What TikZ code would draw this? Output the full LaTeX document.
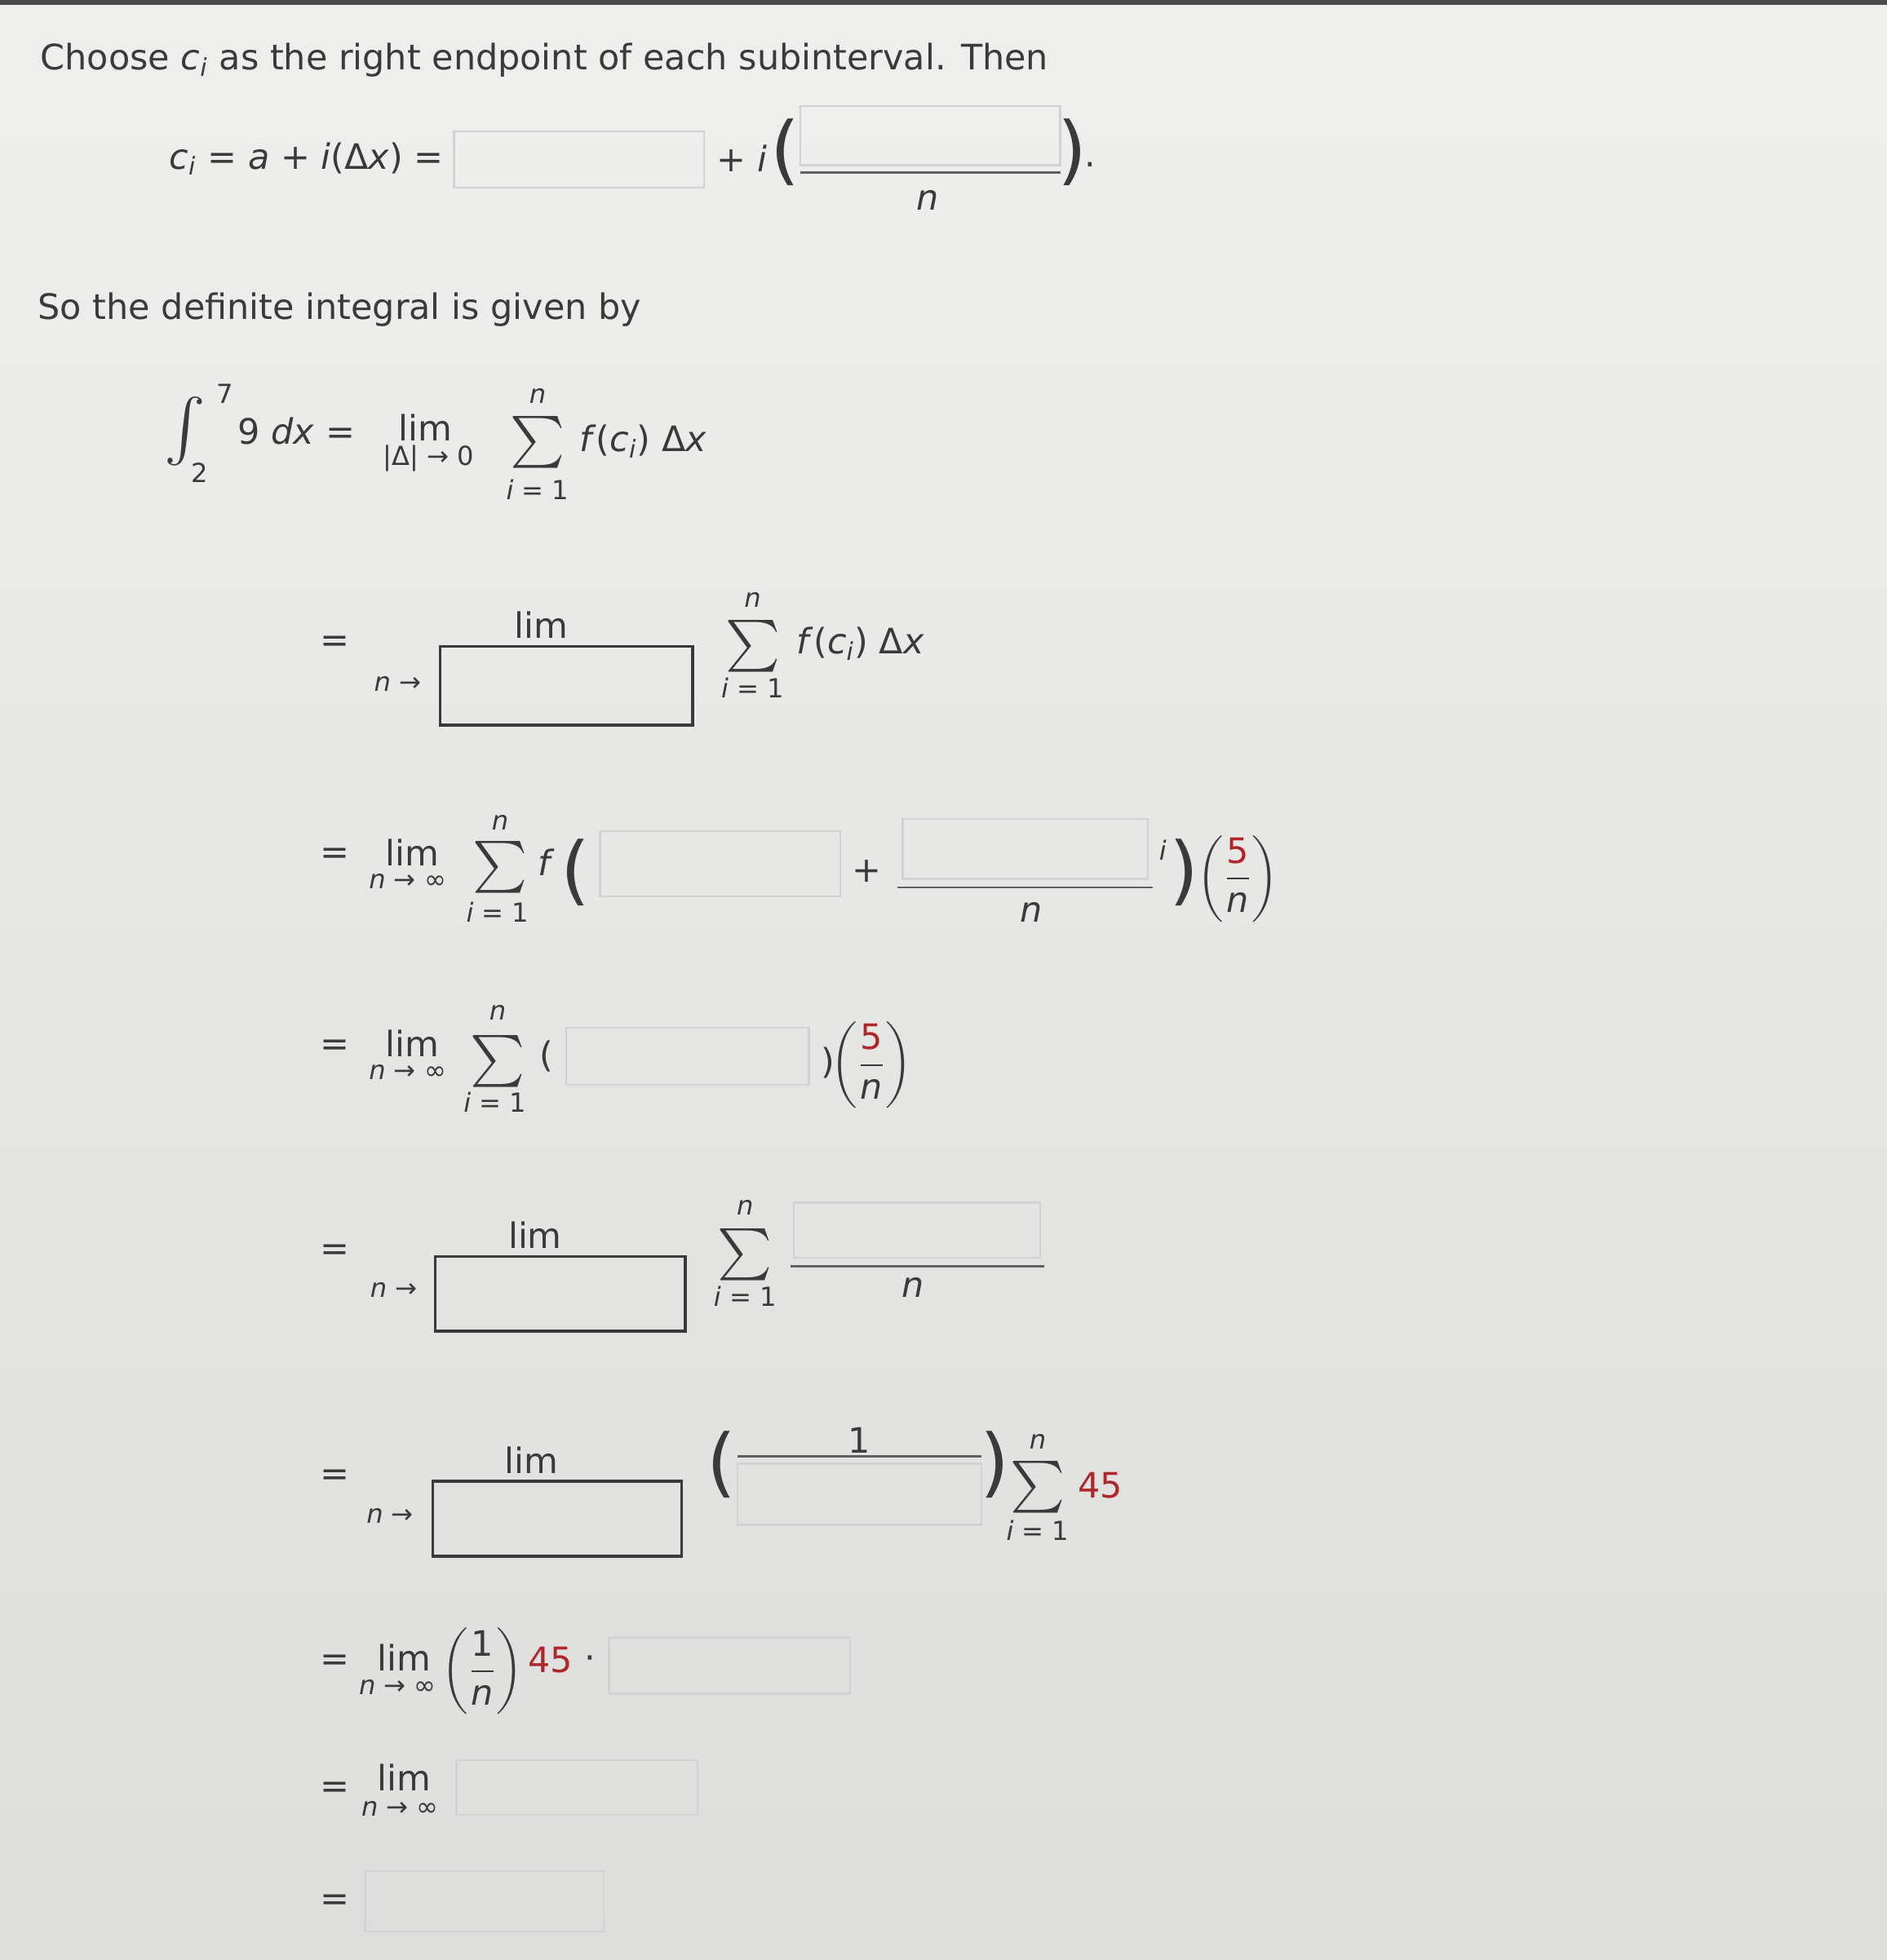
\documentclass[tikz,border=0pt]{standalone}
\usepackage{fontspec}
\setmainfont{DejaVu Sans}
\usepackage{amsmath}
\definecolor{bg}{HTML}{E4E4E2}
\definecolor{ans}{HTML}{B0262A}
\definecolor{txt}{HTML}{3A3A3A}
\newcommand{\myfr}[2]{$\displaystyle\left(\frac{\text{#1}}{\text{#2}}\right)$}
\begin{document}
\begin{tikzpicture}[x=0.5pt,y=-0.5pt,
  t/.style={inner sep=0pt,text=txt,font=\fontsize{14}{16}\selectfont},
  l/.style={t,anchor=west},
  s/.style={t,font=\fontsize{10.5}{12}\selectfont},
  sig/.style={t,font=\fontsize{22}{24}\selectfont},
  big/.style={t,font=\fontsize{30}{32}\selectfont},
  gbox/.style={draw=gray!35,line width=0.8pt},
  kbox/.style={draw=txt,line width=1.1pt},
  fl/.style={draw=txt!80,line width=0.9pt}]
\shade[top color=bg!60!white,bottom color=bg!97!black] (0,0) rectangle (1509,1568);
\fill[black!70] (0,0) rectangle (1509,4);
\useasboundingbox (0,0) rectangle (1509,1568);
% line 1
\node[l] (h1) at (32,48) {Choose \textit{c\textsubscript{i}} as the right endpoint of each subinterval. Then};
\node[l] (ci) at (135,127) {\textit{c\textsubscript{i}} = \textit{a} + \textit{i}(Δ\textit{x}) =};
\draw[gbox] (363,105) rectangle (563,150);
\node[l] (pi) at (573,127) {+ \textit{i}};
\node[big] (p1) at (628,122) {(};
\draw[gbox] (640,85) rectangle (848,132);
\draw[fl] (640,138) -- (848,138);
\node[t] (n1) at (742,160) {\textit{n}};
\node[big] (p2) at (858,122) {)};
\node[t] at (872,132) {.};
\node[l] (h2) at (30,248) {So the definite integral is given by};
% integral
\node[t,font=\fontsize{30}{32}\selectfont] (int) at (148,345) {$\int$};
\node[s] at (180,315) {7};
\node[s] at (160,378) {2};
\node[l] (nine) at (190,345) {9 \textit{dx} =};
\node[t] at (340,342) {lim};
\node[s] at (343,367) {|Δ| → 0};
\node[sig] (s0) at (430,354) {$\sum$};
\node[s] at (430,317) {\textit{n}};
\node[s] at (430,392) {\textit{i} = 1};
\node[l] at (463,353) {\textit{f}(\textit{c\textsubscript{i}}) Δ\textit{x}};
% row 2
\node[t] at (268,515) {=};
\node[t] at (433,500) {lim};
\node[s] at (318,547) {\textit{n} →};
\draw[kbox] (352,517) rectangle (554,580);
\node[sig] at (602,517) {$\sum$};
\node[s] at (602,480) {\textit{n}};
\node[s] at (602,550) {\textit{i} = 1};
\node[l] at (637,515) {\textit{f}(\textit{c\textsubscript{i}}) Δ\textit{x}};
% row 3
\node[t] at (268,685) {=};
\node[t] at (330,682) {lim};
\node[s] at (326,705) {\textit{n} → ∞};
\node[sig] at (400,694) {$\sum$};
\node[s] at (400,658) {\textit{n}};
\node[s] at (398,730) {\textit{i} = 1};
\node[t] at (437,690) {\textit{f}};
\node[big] at (460,698) {(};
\draw[gbox] (480,665) rectangle (672,717);
\node[t] at (693,697) {+};
\draw[gbox] (722,655) rectangle (918,703);
\draw[fl] (718,710) -- (922,710);
\node[s] at (930,680) {\textit{i}};
\node[t] at (825,730) {\textit{n}};
\node[big] at (947,698) {)};
\node[t] at (990,703) {\myfr{\textcolor{ans}{5}}{\textit{n}}};
% row 4
\node[t] at (268,838) {=};
\node[t] at (330,835) {lim};
\node[s] at (326,858) {\textit{n} → ∞};
\node[sig] at (398,849) {$\sum$};
\node[s] at (398,810) {\textit{n}};
\node[s] at (396,882) {\textit{i} = 1};
\node[t] at (437,845) {(};
\draw[gbox] (453,822) rectangle (647,868);
\node[t] at (662,850) {)};
\node[t] at (697,852) {\myfr{\textcolor{ans}{5}}{\textit{n}}};
% row 5
\node[t] at (268,1002) {=};
\node[t] at (428,988) {lim};
\node[s] at (315,1032) {\textit{n} →};
\draw[kbox] (348,1005) rectangle (548,1065);
\node[sig] at (596,1004) {$\sum$};
\node[s] at (596,966) {\textit{n}};
\node[s] at (596,1037) {\textit{i} = 1};
\draw[gbox] (635,962) rectangle (832,1006);
\draw[fl] (632,1013) -- (835,1013);
\node[t] at (730,1030) {\textit{n}};
% row 6
\node[t] at (268,1182) {=};
\node[t] at (425,1168) {lim};
\node[s] at (312,1213) {\textit{n} →};
\draw[kbox] (346,1185) rectangle (545,1245);
\node[big] at (577,1172) {(};
\node[t] at (687,1152) {1};
\draw[fl] (590,1165) -- (785,1165);
\draw[gbox] (590,1171) rectangle (785,1220);
\node[big] at (796,1172) {)};
\node[sig] at (830,1190) {$\sum$};
\node[s] at (830,1153) {\textit{n}};
\node[s] at (830,1224) {\textit{i} = 1};
\node[t,text=ans] at (880,1188) {45};
% row 7
\node[t] at (268,1330) {=};
\node[t] at (323,1326) {lim};
\node[s] at (318,1350) {\textit{n} → ∞};
\node[t] at (386,1337) {\myfr{1}{\textit{n}}};
\node[t,text=ans] at (440,1328) {45};
\node[t] at (472,1330) {·};
\draw[gbox] (487,1310) rectangle (680,1355);
% row 8
\node[t] at (268,1432) {=};
\node[t] at (323,1422) {lim};
\node[s] at (320,1447) {\textit{n} → ∞};
\draw[gbox] (365,1408) rectangle (558,1452);
% row 9
\node[t] at (268,1522) {=};
\draw[gbox] (292,1497) rectangle (483,1545);
\end{tikzpicture}
\end{document}
